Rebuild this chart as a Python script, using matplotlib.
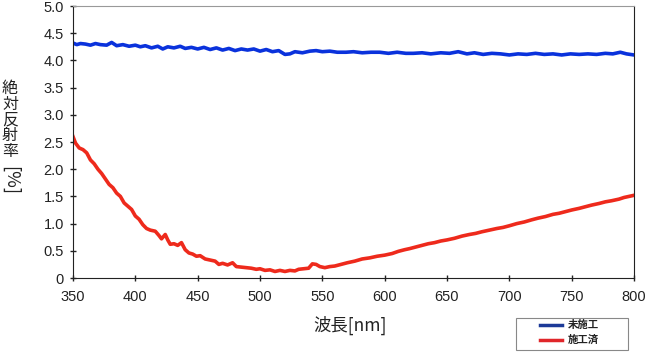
import matplotlib
matplotlib.use("Agg")
import matplotlib.pyplot as plt
from matplotlib.lines import Line2D
from matplotlib.patches import Rectangle

# ----------------------------------------------------------
# data
# ----------------------------------------------------------
blue_nm = [350, 353, 356, 360, 364, 368, 372, 377, 381, 385, 390, 395, 400, 404, 408,
           413, 418, 422, 426, 431, 436, 440, 445, 450, 455, 460, 465, 470, 475, 480,
           485, 490, 495, 500, 505, 510, 515, 520, 524, 528, 534, 540, 545, 550, 556,
           562, 569, 575, 582, 589, 596, 603, 610, 617, 623, 630, 637, 645, 652, 659,
           666, 672, 679, 686, 693, 700, 707, 714, 721, 728, 735, 742, 749, 756, 763,
           770, 777, 783, 789, 794, 800]
blue_val = [4.32, 4.29, 4.31, 4.30, 4.28, 4.31, 4.29, 4.28, 4.33, 4.27, 4.29, 4.26, 4.28, 4.25, 4.27,
            4.23, 4.26, 4.21, 4.25, 4.23, 4.26, 4.22, 4.24, 4.21, 4.24, 4.20, 4.23, 4.19, 4.22, 4.18,
            4.21, 4.19, 4.21, 4.17, 4.20, 4.16, 4.18, 4.11, 4.12, 4.16, 4.14, 4.17, 4.18, 4.16, 4.17,
            4.15, 4.15, 4.16, 4.14, 4.15, 4.15, 4.13, 4.15, 4.13, 4.13, 4.14, 4.12, 4.14, 4.13, 4.16,
            4.12, 4.14, 4.11, 4.13, 4.12, 4.10, 4.12, 4.11, 4.13, 4.11, 4.12, 4.10, 4.12, 4.11, 4.12,
            4.11, 4.13, 4.12, 4.15, 4.12, 4.10]

red_nm = [350, 352, 355, 358, 361, 364, 367, 370, 373, 376, 379, 382, 385, 388, 391,
          394, 397, 400, 403, 406, 409, 412, 416, 419, 421, 424, 426, 428, 431, 434,
          437, 440, 443, 446, 449, 452, 456, 460, 464, 467, 470, 474, 478, 481, 485,
          489, 493, 497, 500, 504, 508, 512, 516, 520, 524, 528, 531, 535, 539, 542,
          545, 548, 552, 556, 560, 565, 570, 576, 582, 588, 594, 600, 606, 611, 616,
          620, 625, 630, 635, 640, 645, 650, 656, 662, 668, 673, 678, 684, 690, 695,
          700, 706, 712, 718, 723, 729, 735, 740, 745, 750, 756, 761, 766, 772, 777,
          782, 788, 792, 796, 800]
red_val = [2.60, 2.48, 2.39, 2.36, 2.30, 2.17, 2.10, 2.00, 1.92, 1.82, 1.72, 1.66, 1.56, 1.50, 1.38,
           1.32, 1.26, 1.14, 1.08, 0.98, 0.91, 0.88, 0.86, 0.78, 0.72, 0.80, 0.70, 0.62, 0.63, 0.60,
           0.65, 0.52, 0.46, 0.44, 0.40, 0.41, 0.35, 0.33, 0.31, 0.25, 0.27, 0.24, 0.28, 0.21, 0.20,
           0.19, 0.18, 0.16, 0.17, 0.14, 0.15, 0.12, 0.14, 0.12, 0.14, 0.13, 0.16, 0.17, 0.18, 0.26,
           0.25, 0.21, 0.19, 0.21, 0.22, 0.25, 0.28, 0.31, 0.35, 0.37, 0.40, 0.42, 0.45, 0.49, 0.52,
           0.54, 0.57, 0.60, 0.63, 0.65, 0.68, 0.70, 0.73, 0.77, 0.80, 0.82, 0.85, 0.88, 0.91, 0.93,
           0.96, 1.00, 1.03, 1.07, 1.10, 1.13, 1.17, 1.19, 1.22, 1.25, 1.28, 1.31, 1.34, 1.37, 1.40,
           1.42, 1.45, 1.48, 1.50, 1.52]

series_labels = ["未施工", "施工済"]
series_colors = ["#0a32dc", "#ee2a1c"]
legend_colors = ["#1c3a98", "#e0262a"]
x_ticks = [350, 400, 450, 500, 550, 600, 650, 700, 750, 800]
y_ticks = [0, 0.5, 1.0, 1.5, 2.0, 2.5, 3.0, 3.5, 4.0, 4.5, 5.0]
y_ticklabels = ["0", "0.5", "1.0", "1.5", "2.0", "2.5", "3.0", "3.5", "4.0", "4.5", "5.0"]

JP = ["Noto Sans CJK JP", "DejaVu Sans"]
NUM = ["Liberation Sans", "DejaVu Sans"]
INK = "#222222"

# ----------------------------------------------------------
# figure
# ----------------------------------------------------------
W, H = 647, 353
fig = plt.figure(figsize=(W / 100, H / 100), dpi=100)
ax = fig.add_axes([73 / W, 1 - 278 / H, (634 - 73) / W, (278 - 6) / H])

ax.plot(blue_nm, blue_val, color=series_colors[0], lw=2.6, solid_joinstyle="round")
ax.plot(red_nm, red_val, color=series_colors[1], lw=2.6, solid_joinstyle="round")

ax.set_xlim(350, 800)
ax.set_ylim(0, 5.0)
ax.set_xticks(x_ticks)
ax.set_yticks(y_ticks)
ax.set_yticklabels(y_ticklabels)
ax.tick_params(direction="inout", length=5, width=1, colors=INK,
               labelsize=10.5, labelcolor=INK)
ax.tick_params(axis="x", pad=6)
ax.tick_params(axis="y", pad=4)
for lab in ax.get_xticklabels() + ax.get_yticklabels():
    lab.set_family(NUM)

for side in ["left", "bottom", "right"]:
    ax.spines[side].set_color(INK)
ax.spines["top"].set_color("#999999")

# x label
fig.text(350 / W, 1 - 325 / H, "波長[nm]", family=JP, fontsize=12.5,
         ha="center", va="center", color=INK)

# vertical y label: stacked kanji, then rotated [%]
fig.text(10 / W, 1 - 80 / H, "絶\n対\n反\n射\n率", family=JP, fontsize=11.5,
         ha="center", va="top", color=INK, linespacing=0.9)
fig.text(10 / W, 1 - 181 / H, "[%]", family=JP, fontsize=13, rotation=-90,
         rotation_mode="anchor", ha="center", va="center", color=INK)

# legend box, drawn by hand to match the wide left padding
fig.add_artist(Rectangle((516 / W, 1 - 350 / H), (628 - 516) / W, (350 - 318) / H,
                         transform=fig.transFigure, facecolor="white",
                         edgecolor="#888888", lw=0.8))
for i, (lab, col) in enumerate(zip(series_labels, legend_colors)):
    yy = 1 - (325 + 15 * i) / H
    fig.add_artist(Line2D([540 / W, 562 / W], [yy, yy], transform=fig.transFigure,
                          color=col, lw=2.5))
    fig.text(568 / W, yy, lab, family=JP, fontsize=7.5, weight="bold",
             ha="left", va="center", color=INK)

fig.savefig("out.png", dpi=100)
